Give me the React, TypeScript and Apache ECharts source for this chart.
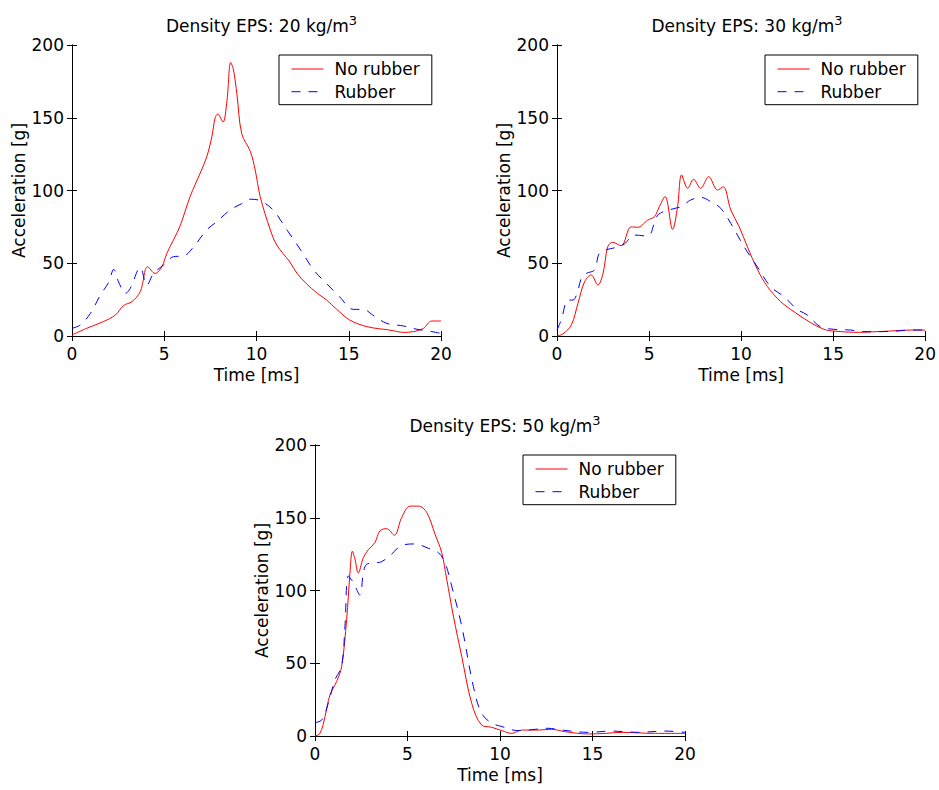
import React, { useEffect, useRef } from "react";
import * as echarts from "echarts";

const FONT = '"DejaVu Sans", sans-serif';

const seriesNames = ["No rubber", "Rubber"];
const panelTitles = ["20", "30", "50"];
const xTicks = { min: 0, max: 20, interval: 5 };
const yTicks = { min: 0, max: 200, interval: 50 };

// Density EPS 20 kg/m3
const eps20NoRubber = [
  [0, 0.7], [0.8, 5.3], [1.7, 9.9], [2.35, 14.4], [2.8, 21], [3.25, 23.6], [3.7, 30.5],
  [4.1, 47.6], [4.5, 43], [4.87, 47.6], [5.14, 56.8], [5.5, 66], [5.87, 76], [6.4, 95.8],
  [6.95, 112], [7.3, 123], [7.58, 137], [7.76, 150], [7.9, 152.6], [8.18, 147], [8.4, 162],
  [8.6, 188], [8.75, 183], [8.94, 166], [9.2, 139], [9.66, 127], [9.93, 114], [10.2, 95.8],
  [10.75, 72.9], [11.1, 62.5], [11.8, 51], [12.2, 43], [12.7, 36], [13.3, 29.3], [13.8, 24.7],
  [14.35, 18.3], [15.05, 11], [16, 6.4], [17.2, 4.1], [18, 2.5], [18.5, 3], [19.05, 5.3],
  [19.5, 10.3], [20, 10.3],
];
const eps20Rubber = [
  [0, 5.3], [0.45, 7.6], [1, 15.6], [1.53, 28], [1.99, 37], [2.26, 45.8], [2.53, 37],
  [2.9, 29.3], [3.16, 32.8], [3.7, 47], [4.06, 35], [4.42, 43], [4.96, 48.8], [5.5, 54.5],
  [6.05, 55], [6.6, 61.4], [7.3, 72.9], [7.85, 78.6], [8.57, 86.6], [9.2, 91], [9.66, 94],
  [10.2, 93], [10.9, 86.6], [11.65, 72.9], [12.4, 59], [13.1, 45.4], [13.8, 36], [14.5, 27],
  [15.25, 18.3], [15.8, 18.3], [16.3, 14.4], [17.06, 8.7], [17.96, 6.9], [18.7, 4.6],
  [19.2, 3.7], [20, 1.8],
];

// Density EPS 30 kg/m3
const eps30NoRubber = [
  [0, 0], [0.32, 1.4], [0.78, 7.6], [1.14, 22.5], [1.5, 37.3], [1.86, 42], [2.22, 35],
  [2.5, 43], [2.76, 61.4], [3.03, 64.4], [3.48, 62], [4.03, 75], [4.39, 74.7], [4.93, 79.7],
  [5.29, 82], [5.56, 88.9], [5.87, 95.8], [6.28, 73.3], [6.55, 89], [6.77, 110.7], [7.1, 101.5],
  [7.42, 107.7], [7.8, 101.5], [8.24, 109.5], [8.72, 100.3], [9.03, 102.6], [9.44, 86.6],
  [9.9, 75], [10.34, 61.4], [10.9, 45.4], [11.43, 34], [12.15, 23.6], [12.87, 16.7],
  [13.77, 9.2], [14.5, 4.6], [15.04, 3.4], [16.3, 2.5], [17.38, 3], [18.1, 3.4], [19.2, 4.1],
  [20, 4.1],
];
const eps30Rubber = [
  [0, 4.1], [0.23, 11], [0.6, 24.7], [0.87, 24.7], [1.14, 31.6], [1.32, 39.6], [1.59, 43],
  [2.04, 45.4], [2.3, 56.8], [2.76, 59.6], [3.03, 60.3], [3.65, 63.2], [4.19, 69.4],
  [4.93, 68.7], [5.47, 83], [6.19, 87], [6.73, 88.9], [7.27, 93.5], [7.8, 95.3], [8.36, 92.3],
  [8.9, 87.7], [9.44, 77.4], [10.16, 61.4], [10.88, 47.6], [11.6, 34], [12.33, 27],
  [13.05, 18.3], [13.6, 14.4], [14.3, 6.4], [15.04, 4.6], [15.94, 4.1], [16.66, 3],
  [17.56, 3], [18.47, 3.4], [19.2, 4.1], [20, 4.1],
];

// Density EPS 50 kg/m3
const eps50NoRubber = [
  [0, 0], [0.27, 1.8], [0.54, 13.3], [0.81, 28.3], [1.17, 37.5], [1.44, 47.8], [1.71, 80],
  [1.89, 112], [2.02, 127], [2.16, 121.6], [2.34, 112], [2.61, 122.5], [2.88, 128],
  [3.24, 133], [3.51, 141], [3.87, 142.5], [4.29, 138], [4.68, 150], [5.14, 158], [5.59, 158],
  [6.04, 153.6], [6.49, 138.6], [6.85, 126], [7.12, 107.7], [7.48, 82.4], [7.93, 54.8],
  [8.47, 22.5], [9, 7.6], [9.55, 6], [10.1, 3.7], [10.63, 1.8], [11.17, 4.1], [12.07, 4.1],
  [12.8, 4.6], [13.5, 3], [14.77, 1.4], [15.68, 1.8], [16.6, 2.5], [18.4, 1.8], [20, 1.8],
];
const eps50Rubber = [
  [0, 9.2], [0.36, 11], [0.72, 22.6], [1.08, 38.7], [1.44, 47.9], [1.62, 75.5], [1.8, 110],
  [2.07, 105.5], [2.43, 96.8], [2.61, 112], [2.79, 118], [3.15, 118.9], [3.6, 119.8],
  [4.14, 125], [4.68, 131], [5.4, 132], [6.13, 129], [6.67, 126], [7.03, 119], [7.39, 103],
  [7.93, 75.6], [8.56, 34], [9, 15.7], [9.55, 8.8], [10.1, 6.5], [10.7, 4.1], [11.17, 3.7],
  [11.9, 4.6], [12.6, 5.3], [13.33, 4.1], [14.77, 2.5], [16, 3.4], [17.5, 2.5], [18.9, 3.4],
  [20, 2.5],
];

const panelData = [
  [eps20NoRubber, eps20Rubber],
  [eps30NoRubber, eps30Rubber],
  [eps50NoRubber, eps50Rubber],
];

const grids = [
  { left: 72, top: 45, width: 369, height: 291 },
  { left: 557, top: 45, width: 370, height: 291 },
  { left: 315, top: 445, width: 370, height: 291 },
];

const RED = "#ff0000";
const BLUE = "#0000ff";
const DASH = [9, 8];

function buildOption() {
  const textBase = { fontFamily: FONT, fontSize: 17, color: "#000" };
  const xAxis: any[] = [];
  const yAxis: any[] = [];
  const lineAx = { show: true, lineStyle: { color: "#000", width: 1 } };
  const tickAx = { show: true, inside: true, length: 5, lineStyle: { color: "#000", width: 1 } };
  grids.forEach((_, i) => {
    xAxis.push({
      type: "value", gridIndex: i, position: "bottom", ...xTicks,
      axisLine: lineAx, axisTick: tickAx, splitLine: { show: false },
      axisLabel: { ...textBase, margin: 9 },
      name: "Time [ms]", nameLocation: "middle", nameGap: 30, nameTextStyle: textBase,
    });
    yAxis.push({
      type: "value", gridIndex: i, position: "left", ...yTicks,
      axisLine: lineAx, axisTick: tickAx, splitLine: { show: false },
      axisLabel: { ...textBase, margin: 8 },
      name: "Acceleration [g]", nameLocation: "middle", nameGap: 45, nameTextStyle: textBase,
    });
  });
  grids.forEach((_, i) => {
    xAxis.push({
      type: "value", gridIndex: i, position: "top", ...xTicks,
      axisLine: lineAx, axisTick: tickAx, splitLine: { show: false },
      axisLabel: { show: false },
    });
    yAxis.push({
      type: "value", gridIndex: i, position: "right", ...yTicks,
      axisLine: lineAx, axisTick: tickAx, splitLine: { show: false },
      axisLabel: { show: false },
    });
  });

  const series: any[] = [];
  panelData.forEach((pair, i) => {
    series.push({
      type: "line", name: seriesNames[0], xAxisIndex: i, yAxisIndex: i,
      data: pair[0], symbol: "none", showSymbol: false, smooth: 0.35,
      lineStyle: { color: RED, width: 1 }, itemStyle: { color: RED },
    });
    series.push({
      type: "line", name: seriesNames[1], xAxisIndex: i, yAxisIndex: i,
      data: pair[1], symbol: "none", showSymbol: false, smooth: 0.35,
      lineStyle: { color: BLUE, width: 1, type: DASH }, itemStyle: { color: BLUE },
    });
  });

  const title = grids.map((g, i) => ({
    text: `Density EPS: ${panelTitles[i]} kg/m{sup|3}`,
    left: g.left + g.width / 2,
    top: g.top - 36,
    textAlign: "center",
    textStyle: {
      ...textBase, fontWeight: "normal", lineHeight: 24,
      rich: {
        sup: { fontFamily: FONT, fontSize: 13, lineHeight: 13, verticalAlign: "top", color: "#000" },
      },
    },
  }));

  const legend = grids.map((g) => ({
    data: seriesNames,
    orient: "vertical",
    left: g.left + g.width - 162,
    top: g.top + 10,
    padding: [5, 12, 4, 12],
    itemWidth: 32,
    itemHeight: 14,
    itemGap: 4.7,
    itemStyle: { opacity: 0 },
    lineStyle: { width: 1 },
    borderColor: "#000",
    borderWidth: 1,
    borderRadius: 0,
    backgroundColor: "#fff",
    selectedMode: false,
    textStyle: { ...textBase, lineHeight: 18, padding: [0, 0, 0, 6] },
  }));

  return {
    animation: false,
    backgroundColor: "#fff",
    title,
    legend,
    grid: grids,
    xAxis,
    yAxis,
    series,
  };
}

export default function App() {
  const ref = useRef<HTMLDivElement>(null);
  useEffect(() => {
    if (!ref.current) return;
    const chart = echarts.init(ref.current, undefined, { renderer: "svg" });
    chart.setOption(buildOption() as any);
    return () => chart.dispose();
  }, []);
  return (
    <div
      ref={ref}
      style={{ position: "fixed", left: 0, top: 0, width: 939, height: 790, background: "#fff" }}
    />
  );
}
